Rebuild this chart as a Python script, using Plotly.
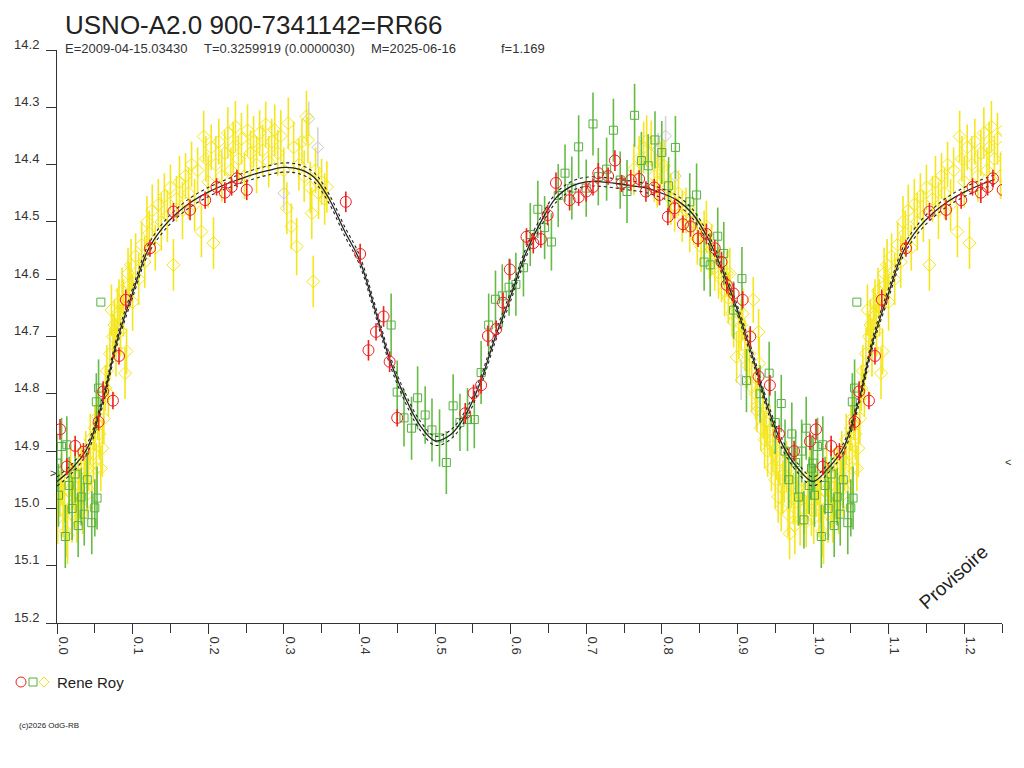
import plotly.graph_objects as go

# light curve of USNO-A2.0 900-7341142 (RR66), phased, observer Rene Roy
W, H = 1024, 768
OX, OY = 8, 8                  # page margin around the figure
L, R, T, B = 49, 30, 42, 153   # gives a plot box of x 57..1002, y 50..623 on screen

# yellow diamonds
yel_ph = [0.001, 0.004, 0.006, 0.008, 0.010, 0.012, 0.014, 0.016, 0.018, 0.020,
          0.022, 0.024, 0.026, 0.028, 0.030, 0.032, 0.034, 0.036, 0.038, 0.040,
          0.042, 0.044, 0.046, 0.048, 0.050, 0.052, 0.054, 0.056, 0.058, 0.060,
          0.062, 0.064, 0.066, 0.068, 0.070, 0.072, 0.074, 0.076, 0.078, 0.080,
          0.082, 0.084, 0.086, 0.088, 0.090, 0.092, 0.094, 0.096, 0.098, 0.100,
          0.104, 0.108, 0.112, 0.116, 0.119, 0.122, 0.126, 0.130, 0.134, 0.138,
          0.142, 0.146, 0.150, 0.154, 0.158, 0.162, 0.166, 0.170, 0.174, 0.178,
          0.182, 0.186, 0.191, 0.194, 0.197, 0.200, 0.204, 0.207, 0.210, 0.214,
          0.218, 0.222, 0.226, 0.230, 0.233, 0.236, 0.240, 0.244, 0.248, 0.252,
          0.256, 0.260, 0.264, 0.268, 0.272, 0.276, 0.280, 0.284, 0.288, 0.292,
          0.296, 0.300, 0.304, 0.306, 0.310, 0.313, 0.317, 0.320, 0.324, 0.327,
          0.330, 0.332, 0.335, 0.337, 0.339, 0.342, 0.346, 0.350, 0.354, 0.357,
          0.763, 0.770, 0.776, 0.780, 0.786, 0.790, 0.794, 0.798, 0.803, 0.808,
          0.812, 0.817, 0.822, 0.827, 0.832, 0.837, 0.842, 0.847, 0.852, 0.856,
          0.859, 0.863, 0.866, 0.870, 0.875, 0.879, 0.883, 0.886, 0.888, 0.890,
          0.893, 0.895, 0.899, 0.902, 0.905, 0.907, 0.910, 0.913, 0.916, 0.919,
          0.921, 0.924, 0.926, 0.928, 0.929, 0.931, 0.934, 0.936, 0.938, 0.940,
          0.943, 0.945, 0.947, 0.950, 0.952, 0.954, 0.956, 0.958, 0.960, 0.962,
          0.965, 0.967, 0.969, 0.971, 0.974, 0.976, 0.978, 0.980, 0.983, 0.985,
          0.988, 0.991, 0.993, 0.996, 0.998]
yel_mag = [15.017, 14.975, 14.950, 15.000, 14.985, 15.040, 15.047, 14.970, 14.935, 15.010,
           14.960, 14.990, 15.020, 14.945, 14.975, 14.930, 15.000, 14.955, 14.910, 14.965,
           14.930, 14.880, 14.990, 14.905, 14.860, 14.930, 14.840, 14.870, 14.930, 14.895,
           14.843, 14.790, 14.760, 14.800, 14.730, 14.654, 14.700, 14.680, 14.720, 14.660,
           14.640, 14.690, 14.620, 14.650, 14.764, 14.726, 14.590, 14.610, 14.575, 14.640,
           14.560, 14.600, 14.540, 14.570, 14.500, 14.520, 14.480, 14.545, 14.470, 14.500,
           14.455, 14.490, 14.440, 14.575, 14.460, 14.430, 14.480, 14.420, 14.450, 14.400,
           14.470, 14.410, 14.517, 14.351, 14.390, 14.430, 14.370, 14.537, 14.400, 14.360,
           14.420, 14.380, 14.345, 14.410, 14.370, 14.334, 14.390, 14.355, 14.420, 14.340,
           14.380, 14.360, 14.400, 14.345, 14.375, 14.330, 14.395, 14.360, 14.340, 14.380,
           14.350, 14.410, 14.476, 14.328, 14.508, 14.370, 14.543, 14.400, 14.360, 14.420,
           14.316, 14.357, 14.440, 14.485, 14.604, 14.410, 14.450, 14.430, 14.460, 14.439,
           14.408, 14.390, 14.370, 14.359, 14.363, 14.420, 14.430, 14.400, 14.402, 14.440,
           14.460, 14.472, 14.450, 14.490, 14.480, 14.508, 14.500, 14.530, 14.543, 14.520,
           14.508, 14.560, 14.549, 14.580, 14.589, 14.600, 14.620, 14.590, 14.633, 14.590,
           14.660, 14.674, 14.736, 14.700, 14.680, 14.660, 14.715, 14.750, 14.730, 14.788,
           14.636, 14.800, 14.822, 14.692, 14.747, 14.860, 14.834, 14.880, 14.850, 14.900,
           14.863, 14.930, 14.892, 14.950, 14.910, 14.980, 14.916, 15.000, 14.965, 14.940,
           14.927, 15.010, 15.044, 14.960, 14.983, 15.030, 14.939, 14.990, 15.020, 14.950,
           15.000, 15.023, 14.970, 14.940, 15.003]
yel_err = [0.045, 0.040, 0.045, 0.050, 0.040, 0.045, 0.050, 0.040, 0.045, 0.050,
           0.040, 0.045, 0.040, 0.050, 0.045, 0.040, 0.045, 0.040, 0.045, 0.050,
           0.040, 0.045, 0.040, 0.050, 0.040, 0.045, 0.040, 0.045, 0.040, 0.050,
           0.045, 0.040, 0.045, 0.040, 0.045, 0.045, 0.040, 0.045, 0.050, 0.045,
           0.040, 0.045, 0.040, 0.050, 0.045, 0.040, 0.045, 0.040, 0.045, 0.050,
           0.040, 0.045, 0.040, 0.045, 0.045, 0.040, 0.045, 0.040, 0.045, 0.050,
           0.040, 0.045, 0.040, 0.045, 0.040, 0.045, 0.050, 0.040, 0.045, 0.040,
           0.045, 0.040, 0.045, 0.045, 0.040, 0.045, 0.040, 0.045, 0.050, 0.040,
           0.045, 0.040, 0.045, 0.040, 0.045, 0.045, 0.040, 0.045, 0.040, 0.045,
           0.040, 0.045, 0.050, 0.040, 0.045, 0.040, 0.045, 0.040, 0.045, 0.040,
           0.045, 0.040, 0.045, 0.045, 0.040, 0.045, 0.050, 0.045, 0.040, 0.045,
           0.045, 0.040, 0.045, 0.045, 0.045, 0.040, 0.045, 0.040, 0.045, 0.045,
           0.045, 0.040, 0.045, 0.045, 0.040, 0.045, 0.045, 0.040, 0.045, 0.040,
           0.045, 0.045, 0.040, 0.045, 0.040, 0.045, 0.040, 0.045, 0.045, 0.040,
           0.045, 0.040, 0.045, 0.040, 0.045, 0.040, 0.045, 0.040, 0.045, 0.045,
           0.040, 0.045, 0.045, 0.040, 0.045, 0.045, 0.045, 0.040, 0.045, 0.045,
           0.040, 0.045, 0.045, 0.040, 0.045, 0.040, 0.045, 0.050, 0.040, 0.045,
           0.045, 0.040, 0.045, 0.050, 0.040, 0.045, 0.045, 0.040, 0.045, 0.050,
           0.045, 0.040, 0.045, 0.040, 0.045, 0.050, 0.045, 0.040, 0.045, 0.040,
           0.045, 0.045, 0.040, 0.045, 0.045]

# green squares
grn_ph = [0.000, 0.002, 0.006, 0.011, 0.013, 0.016, 0.020, 0.024, 0.028, 0.032,
          0.036, 0.040, 0.046, 0.050, 0.052, 0.053, 0.055, 0.058,
          0.442, 0.450, 0.459, 0.469, 0.477, 0.487, 0.496, 0.506, 0.515, 0.524,
          0.533, 0.543, 0.552, 0.561, 0.571, 0.580, 0.589, 0.598, 0.607, 0.617,
          0.626, 0.636, 0.645, 0.654, 0.663, 0.672, 0.681, 0.690, 0.700, 0.709,
          0.716, 0.727, 0.736, 0.745, 0.754, 0.764, 0.773, 0.782, 0.791, 0.800,
          0.809, 0.818, 0.837, 0.846, 0.856, 0.864, 0.874, 0.882, 0.895, 0.906,
          0.912, 0.930, 0.942, 0.950, 0.958, 0.963, 0.968, 0.972, 0.977, 0.981,
          0.985, 0.988, 0.991, 0.995, 0.998]
grn_mag = [14.921, 14.977, 14.892, 15.049, 14.889, 14.960, 15.000, 14.940, 15.030, 14.980,
           15.010, 14.950, 15.025, 14.999, 14.814, 14.982, 14.790, 14.640,
           14.680, 14.797, 14.842, 14.860, 14.807, 14.837, 14.863, 14.877, 14.920, 14.821,
           14.850, 14.845, 14.845, 14.763, 14.680, 14.635, 14.629, 14.614, 14.609, 14.580,
           14.522, 14.478, 14.510, 14.535, 14.454, 14.415, 14.441, 14.369, 14.441, 14.329,
           14.421, 14.408, 14.340, 14.427, 14.447, 14.314, 14.393, 14.402, 14.357, 14.379,
           14.437, 14.370, 14.465, 14.453, 14.570, 14.575, 14.525, 14.555, 14.654, 14.599,
           14.777, 14.800, 14.764, 14.850, 14.817, 14.900, 14.950, 14.870, 14.920, 14.980,
           14.900, 15.020, 14.860, 14.960, 14.930]
grn_err = [0.050, 0.055, 0.050, 0.055, 0.050, 0.050, 0.055, 0.050, 0.055, 0.050,
           0.055, 0.050, 0.055, 0.050, 0.050, 0.055, 0.050, 0.000,
           0.055, 0.055, 0.050, 0.055, 0.055, 0.050, 0.055, 0.050, 0.055, 0.055,
           0.050, 0.055, 0.050, 0.055, 0.055, 0.050, 0.055, 0.050, 0.055, 0.050,
           0.055, 0.050, 0.055, 0.050, 0.055, 0.050, 0.055, 0.055, 0.050, 0.055,
           0.050, 0.055, 0.055, 0.050, 0.055, 0.055, 0.050, 0.055, 0.050, 0.055,
           0.050, 0.055, 0.050, 0.055, 0.050, 0.055, 0.050, 0.055, 0.050, 0.055,
           0.055, 0.050, 0.055, 0.055, 0.050, 0.055, 0.050, 0.055, 0.055, 0.050,
           0.055, 0.050, 0.055, 0.050, 0.055]

# red circles
red_ph = [0.004, 0.013, 0.024, 0.035, 0.055, 0.061, 0.074, 0.082, 0.091, 0.123,
          0.154, 0.176, 0.196, 0.211, 0.222, 0.231, 0.238, 0.251,
          0.382, 0.401, 0.412, 0.422, 0.432, 0.440, 0.450, 0.540, 0.551, 0.561,
          0.570, 0.581, 0.590, 0.599, 0.621, 0.630, 0.640, 0.649, 0.660, 0.678,
          0.690, 0.700, 0.709, 0.716, 0.729, 0.738, 0.747, 0.759, 0.770, 0.779,
          0.790, 0.797, 0.808, 0.817, 0.828, 0.838, 0.848, 0.859, 0.870, 0.879,
          0.886, 0.895, 0.907, 0.917, 0.928, 0.943, 0.955, 0.975, 0.996]
red_mag = [14.862, 14.927, 14.891, 14.901, 14.849, 14.796, 14.812, 14.734, 14.636, 14.546,
           14.482, 14.479, 14.462, 14.439, 14.449, 14.439, 14.424, 14.444,
           14.465, 14.556, 14.724, 14.692, 14.665, 14.744, 14.842, 14.834, 14.799, 14.785,
           14.699, 14.687, 14.641, 14.583, 14.526, 14.537, 14.530, 14.488, 14.432, 14.462,
           14.457, 14.447, 14.439, 14.415, 14.420, 14.393, 14.433, 14.427, 14.425, 14.447,
           14.440, 14.453, 14.491, 14.476, 14.504, 14.508, 14.529, 14.521, 14.546, 14.570,
           14.610, 14.625, 14.636, 14.700, 14.770, 14.785, 14.870, 14.900, 14.883]
red_err = [0.018, 0.015, 0.018, 0.015, 0.015, 0.018, 0.015, 0.015, 0.018, 0.015,
           0.015, 0.018, 0.015, 0.015, 0.018, 0.015, 0.015, 0.018,
           0.018, 0.018, 0.018, 0.015, 0.018, 0.018, 0.015, 0.018, 0.015, 0.015,
           0.018, 0.015, 0.018, 0.018, 0.015, 0.018, 0.015, 0.018, 0.018, 0.018,
           0.015, 0.018, 0.015, 0.018, 0.015, 0.018, 0.015, 0.018, 0.015, 0.018,
           0.015, 0.018, 0.015, 0.018, 0.015, 0.018, 0.015, 0.018, 0.015, 0.018,
           0.015, 0.018, 0.015, 0.018, 0.015, 0.018, 0.015, 0.018, 0.015]

# grey (rejected) points
gry_ph = [0.300, 0.333, 0.345, 0.795, 0.805, 0.818, 0.905, 0.925, 0.960]
gry_mag = [14.450, 14.320, 14.370, 14.375, 14.350, 14.420, 14.776, 14.830, 14.950]
gry_err = [0.030, 0.030, 0.035, 0.030, 0.035, 0.030, 0.035, 0.030, 0.035]

# fitted mean curve with its uncertainty
fit_ph = [0.00, 0.02, 0.04, 0.06, 0.08, 0.10, 0.12, 0.14, 0.16, 0.18,
          0.20, 0.22, 0.24, 0.26, 0.28, 0.30, 0.32, 0.34, 0.36, 0.38,
          0.40, 0.42, 0.44, 0.46, 0.48, 0.50, 0.52, 0.54, 0.56, 0.58,
          0.60, 0.62, 0.64, 0.66, 0.68, 0.70, 0.72, 0.74, 0.76, 0.78,
          0.80, 0.82, 0.84, 0.86, 0.88, 0.90, 0.92, 0.94, 0.96, 0.98]
fit_mag = [14.953, 14.930, 14.895, 14.815, 14.705, 14.624, 14.550, 14.510, 14.483, 14.463,
           14.448, 14.436, 14.426, 14.417, 14.410, 14.405, 14.408, 14.422, 14.460, 14.515,
           14.566, 14.650, 14.740, 14.805, 14.855, 14.882, 14.872, 14.838, 14.780, 14.700,
           14.630, 14.555, 14.500, 14.458, 14.438, 14.430, 14.430, 14.433, 14.437, 14.441,
           14.450, 14.462, 14.485, 14.526, 14.584, 14.654, 14.735, 14.823, 14.890, 14.930]
fit_err = 0.008


def fold(ph, *cols, upto=0.26):
    # repeat the start of the cycle after phase 1
    idx = [i for i, p in enumerate(ph) if p < upto]
    out = [list(ph) + [ph[i] + 1 for i in idx]]
    for c in cols:
        out.append(list(c) + [c[i] for i in idx])
    return out


def px(x):
    # screen pixel -> paper x
    return (x - OX - L) / (W - L - R)


def py(y):
    # screen pixel -> paper y
    return (H - B - (y - OY)) / (H - T - B)


fig = go.Figure()


def add_points(ph, mag, err, symbol, size, color, barcolor):
    x, y, e = fold(ph, mag, err)
    fig.add_trace(go.Scatter(
        x=x, y=y, mode="markers",
        marker=dict(symbol=symbol, size=size, color=color,
                    line=dict(color=color, width=1)),
        error_y=dict(type="data", array=e, width=0, thickness=1.6, color=barcolor),
        showlegend=False, hoverinfo="x+y",
    ))


add_points(gry_ph, gry_mag, gry_err, "diamond-open", 9, "#c8c8c8", "#d4d4d4")
add_points(yel_ph, yel_mag, yel_err, "diamond-open", 10, "#f4e61a", "#f4e61a")
add_points(grn_ph, grn_mag, grn_err, "square-open", 8, "#55b040", "#66bb44")

fx, fy = fold(fit_ph, fit_mag)
for off, dash, wd in [(-fit_err, "dot", 1.1), (fit_err, "dot", 1.1), (0, "solid", 1.3)]:
    fig.add_trace(go.Scatter(
        x=fx, y=[v + off for v in fy], mode="lines",
        line=dict(color="#222222", width=wd, dash=dash, shape="spline"),
        showlegend=False, hoverinfo="skip",
    ))

add_points(red_ph, red_mag, red_err, "circle-open", 11, "#ee2020", "#ee2020")

font = "Liberation Sans, Arial, sans-serif"

# title sits right at the top edge of the figure, so anchor it by its top
fig.add_annotation(text="USNO-A2.0 900-7341142=RR66", x=px(64), y=py(OY + 1),
                   xref="paper", yref="paper", xanchor="left", yanchor="top",
                   showarrow=False, borderpad=0,
                   font=dict(family=font, size=26, color="#222222"))

ann = [
    dict(text="E=2009-04-15.03430", x=px(63), y=py(48), size=13, color="#333333"),
    dict(text="T=0.3259919 (0.0000030)", x=px(202), y=py(48), size=13, color="#333333"),
    dict(text="M=2025-06-16", x=px(369), y=py(48), size=13, color="#333333"),
    dict(text="f=1.169", x=px(499), y=py(48), size=13, color="#333333"),
    dict(text="Rene Roy", x=px(55), y=py(682), size=15, color="#222222"),
    dict(text="(c)2026 OdG-RB", x=px(17), y=py(725), size=8, color="#222222"),
    dict(text=">", x=px(48), y=py(473), size=11, color="#333333"),
    dict(text="<", x=px(1003), y=py(462), size=11, color="#333333"),
]
for a in ann:
    fig.add_annotation(text=a["text"], x=a["x"], y=a["y"], xref="paper", yref="paper",
                       xanchor="left", yanchor="middle", showarrow=False,
                       font=dict(family=font, size=a["size"], color=a["color"]))

fig.add_annotation(text="Provisoire", x=px(953), y=py(577), xref="paper", yref="paper",
                   xanchor="center", yanchor="middle", showarrow=False, textangle=-42,
                   font=dict(family=font, size=19, color="#222222"))

# legend symbols drawn by hand
sym = dict(xref="paper", yref="paper", xsizemode="pixel", ysizemode="pixel",
           yanchor=py(682))
fig.add_shape(type="circle", xanchor=px(21), x0=-5, x1=5, y0=-5, y1=5,
              line=dict(color="#ee2020", width=1), **sym)
fig.add_shape(type="rect", xanchor=px(33), x0=-4, x1=4, y0=-4, y1=4,
              line=dict(color="#55b040", width=1), **sym)
fig.add_shape(type="path", xanchor=px(44), path="M -5 0 L 0 5 L 5 0 L 0 -5 Z",
              line=dict(color="#f4e61a", width=1), **sym)

fig.update_layout(
    width=W, height=H,
    margin=dict(l=L, r=R, t=T, b=B),
    paper_bgcolor="white", plot_bgcolor="white",
    font=dict(family=font, size=13, color="#333333"),
    showlegend=False,
)
fig.update_xaxes(
    range=[0, 1.25], tick0=0, dtick=0.1, tickformat=".1f",
    ticks="outside", ticklen=10, tickcolor="#333333", tickangle=90,
    ticklabelshift=6, automargin=False,
    minor=dict(dtick=0.05, ticks="outside", ticklen=9, tickcolor="#333333"),
    showline=True, linecolor="#333333", linewidth=1,
    showgrid=False, zeroline=False,
)
fig.update_yaxes(
    range=[15.2, 14.2], tick0=14.2, dtick=0.1, tickformat=".1f",
    ticks="outside", ticklen=10, tickcolor="#333333",
    ticklabelstandoff=4, ticklabelshift=6, automargin=False,
    showline=True, linecolor="#333333", linewidth=1,
    showgrid=False, zeroline=False,
)

fig.write_html("out.html")
